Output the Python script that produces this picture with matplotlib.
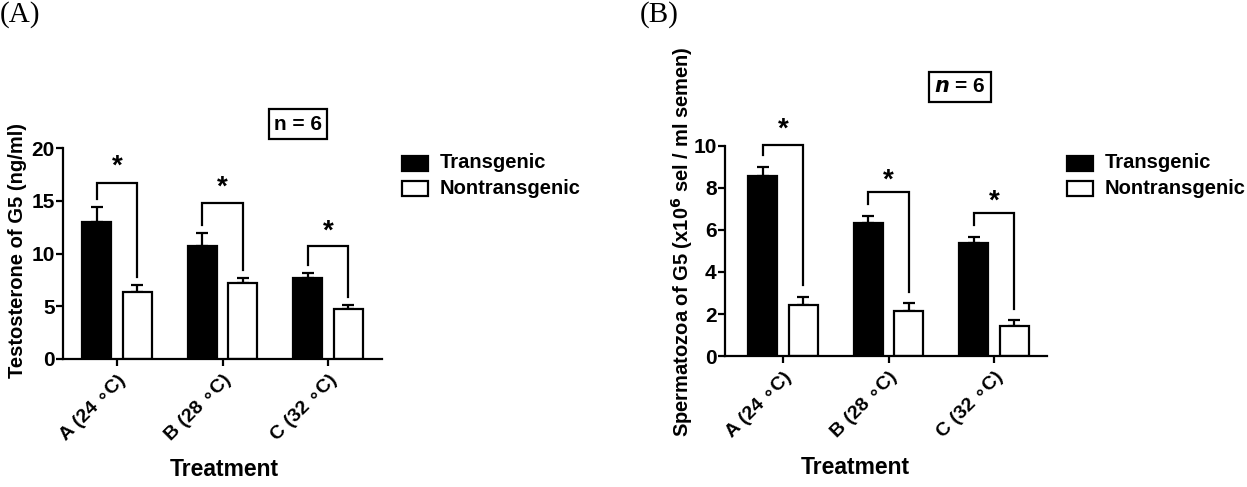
import matplotlib
matplotlib.use("Agg")
import matplotlib.pyplot as plt
import numpy as np

plt.rcParams['font.family'] = ['Liberation Sans', 'DejaVu Sans']
plt.rcParams['font.weight'] = 'bold'

categories = ["A (24 \u2218C)", "B (28 \u2218C)", "C (32 \u2218C)"]
series = ["Transgenic", "Nontransgenic"]

testo_trans = [13.0, 10.7, 7.7]
testo_trans_err = [1.4, 1.2, 0.45]
testo_non = [6.35, 7.2, 4.7]
testo_non_err = [0.65, 0.45, 0.4]
testo_bracket_top = [16.7, 14.8, 10.7]
testo_star = [18.7, 16.7, 12.5]

sperm_trans = [8.57, 6.33, 5.38]
sperm_trans_err = [0.43, 0.34, 0.29]
sperm_non = [2.43, 2.14, 1.43]
sperm_non_err = [0.4, 0.38, 0.28]
sperm_bracket_top = [10.05, 7.8, 6.8]
sperm_star = [11.0, 8.6, 7.6]

W, H = 1247, 487
fig = plt.figure(figsize=(W / 100, H / 100), dpi=100)

LW = 1.6
bw = 0.275
off = 0.192


def make_panel(rect, trans, terr, non, nerr, btop, star, ylim, yticks, ylabel, ylab_xy, xlim, gap,
               nbox, nitalic, legpos, xlabpos):
    l, r, b, t = rect
    ax = fig.add_axes([l / W, 1 - b / H, (r - l) / W, (b - t) / H])
    x = np.arange(len(categories))
    ax.bar(x - off, trans, width=bw, color='black', edgecolor='black', linewidth=LW, zorder=2)
    ax.bar(x + off, non, width=bw, color='white', edgecolor='black', linewidth=LW, zorder=2)
    for xi, v, e in zip(x - off, trans, terr):
        ax.errorbar([xi], [v], yerr=[[0], [e]], fmt='none', ecolor='black', elinewidth=LW,
                    capsize=4.5, capthick=LW, zorder=1)
    for xi, v, e in zip(x + off, non, nerr):
        ax.errorbar([xi], [v], yerr=[[0], [e]], fmt='none', ecolor='black', elinewidth=LW,
                    capsize=4.5, capthick=LW, zorder=1)
    for i in range(len(categories)):
        y1 = trans[i] + terr[i] + gap
        y2 = non[i] + nerr[i] + gap
        ax.plot([x[i] - off, x[i] - off, x[i] + off, x[i] + off], [y1, btop[i], btop[i], y2],
                color='black', lw=LW, clip_on=False, solid_joinstyle='miter')
        ax.annotate('*', (x[i], star[i]), xytext=(0, -3.6), textcoords='offset points',
                    ha='center', va='center', fontsize=20, fontweight='bold',
                    annotation_clip=False)
    ax.set_xlim(*xlim)
    ax.set_ylim(*ylim)
    ax.set_yticks(yticks)
    ax.set_xticks(x)
    ax.set_xticklabels(categories, rotation=45, ha='right', rotation_mode='anchor', fontsize=14,
                       fontweight='bold')
    ax.tick_params(axis='y', labelsize=15, width=LW, length=5, direction='out', pad=1)
    ax.tick_params(axis='x', width=LW, length=5, direction='out', pad=4)
    for lab in ax.get_yticklabels():
        lab.set_fontweight('bold')
    for s in ['top', 'right']:
        ax.spines[s].set_visible(False)
    for s in ['left', 'bottom']:
        ax.spines[s].set_linewidth(LW)
    ax.set_ylabel(ylabel, fontsize=14.5, fontweight='bold', va='center')
    ax.yaxis.set_label_coords((ylab_xy[0] - l) / (r - l), (b - ylab_xy[1]) / (b - t))
    fig.text(xlabpos[0] / W, 1 - xlabpos[1] / H, 'Treatment', ha='center', va='center',
             fontsize=16.5, fontweight='bold')
    ntext = '$\\mathbf{\\mathit{n}}$ = 6' if nitalic else 'n = 6'
    fig.text(nbox[0] / W, 1 - nbox[1] / H, ntext, ha='center', va='center', fontsize=15,
             fontweight='bold',
             bbox=dict(boxstyle='square,pad=0.25', facecolor='white', edgecolor='black', linewidth=LW))
    sq_x, ty, ny, txt_x = legpos
    for yy, fc, name in [(ty, 'black', series[0]), (ny, 'white', series[1])]:
        fig.add_artist(plt.Rectangle((sq_x / W, 1 - (yy + 8) / H), 26 / W, 15 / H,
                                     facecolor=fc, edgecolor='black', linewidth=LW,
                                     transform=fig.transFigure))
        fig.text(txt_x / W, 1 - yy / H, name, ha='left', va='center', fontsize=14.5,
                 fontweight='bold')
    return ax


make_panel((63, 382, 359, 148), testo_trans, testo_trans_err, testo_non, testo_non_err,
           testo_bracket_top, testo_star, (0, 20), [0, 5, 10, 15, 20], 'Testosterone of G5 (ng/ml)',
           (18, 250), (-0.51, 2.51), 0.8, (298, 124), False, (402, 163, 188, 440), (224, 470))

make_panel((725, 1047, 356, 146), sperm_trans, sperm_trans_err, sperm_non, sperm_non_err,
           sperm_bracket_top, sperm_star, (0, 10), [0, 2, 4, 6, 8, 10],
           'Spermatozoa of G5 (x10$\\mathbf{^6}$ sel / ml semen)', (682, 242),
           (-0.55, 2.50), 0.55, (960, 87), True, (1067, 163, 188, 1105), (855, 467))

fig.text(0.0, 0.997, '(A)', ha='left', va='top', fontsize=21, family='Liberation Serif',
         fontweight='normal')
fig.text(640 / W, 0.997, '(B)', ha='left', va='top', fontsize=21, family='Liberation Serif',
         fontweight='normal')

fig.savefig('out.png', dpi=100, facecolor='white')
